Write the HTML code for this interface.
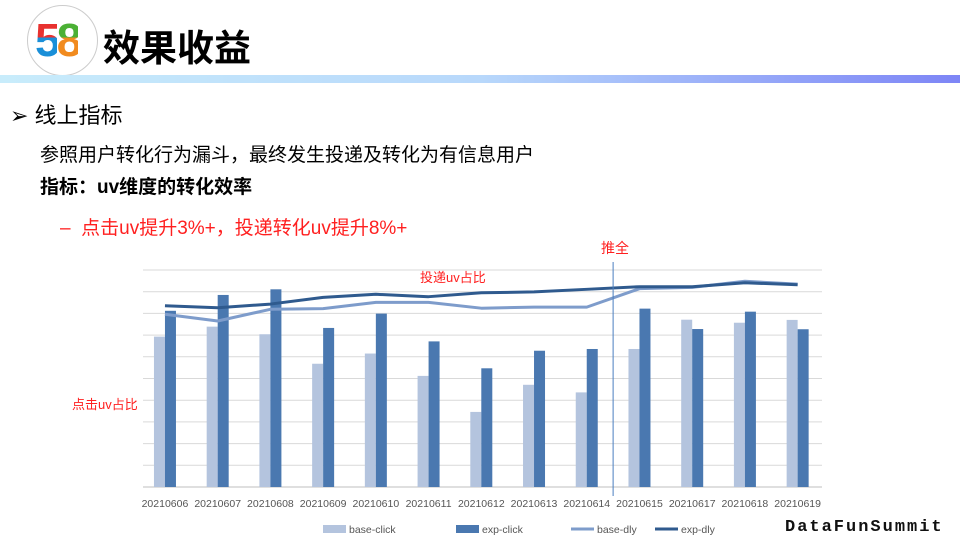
<!DOCTYPE html>
<html><head><meta charset="utf-8"><style>
body{margin:0;width:960px;height:540px;overflow:hidden;background:#fff;font-family:"Liberation Sans","Noto Sans CJK SC",sans-serif;position:relative}
.abs{position:absolute;white-space:nowrap}
.d{-webkit-background-clip:text;background-clip:text;color:transparent}
</style></head><body>
<div class="abs" style="left:27px;top:5px;width:69px;height:69px;border:1px solid #ccc;border-radius:50%;background:#fff"></div>
<div class="abs" style="left:35px;top:14px;font:bold 46px 'Liberation Sans',sans-serif;letter-spacing:-4px;line-height:52px"><span class="d" style="background-image:linear-gradient(180deg,#e8312f 45%,#1a8fd8 45%)">5</span><span class="d" style="background-image:linear-gradient(180deg,#4bb035 45%,#f18b1f 45%)">8</span></div>
<div class="abs" style="left:103px;top:18px;font-size:37px;font-weight:bold;color:#000">效果收益</div>
<div class="abs" style="left:0;top:75px;width:960px;height:8px;background:linear-gradient(90deg,#c8ecfb,#b8d8fb 50%,#7d85f6)"></div>
<div class="abs" style="left:10px;top:98px;font-size:22px;color:#000">➢ 线上指标</div>
<div class="abs" style="left:40px;top:140px;font-size:19px;color:#000">参照用户转化行为漏斗，最终发生投递及转化为有信息用户</div>
<div class="abs" style="left:40px;top:172px;font-size:19px;font-weight:bold;color:#000">指标：uv维度的转化效率</div>
<div class="abs" style="left:60px;top:213px;font-size:19px;color:#ff2020">–&nbsp;&nbsp;点击uv提升3%+，投递转化uv提升8%+</div>
<div class="abs" style="left:785px;top:518px;font:bold 17px 'Liberation Mono',monospace;letter-spacing:2px;color:#111">DataFunSummit</div>
<svg id="chart" class="abs" style="left:0;top:0" width="960" height="540"></svg>
<script>
const categories=["20210606","20210607","20210608","20210609","20210610","20210611","20210612","20210613","20210614","20210615","20210617","20210618","20210619"];
const baseClick=[6.93,7.39,7.04,5.68,6.15,5.12,3.46,4.71,4.36,6.36,7.71,7.57,7.70];
const expClick=[8.12,8.85,9.11,7.33,7.99,6.71,5.47,6.28,6.36,8.22,7.28,8.08,7.27];
const baseDly=[7.96,7.65,8.19,8.22,8.51,8.51,8.24,8.29,8.29,9.14,9.20,9.48,9.35];
const expDly=[8.35,8.26,8.43,8.74,8.88,8.77,8.95,8.99,9.11,9.23,9.23,9.41,9.32];
const yTicks=[0,1,2,3,4,5,6,7,8,9,10];
const fullRolloutAfter=8.5;
const svg=document.getElementById('chart');const NS='http://www.w3.org/2000/svg';
const X0=138.6,X1=824,Y0=487,Y1=270,YMAX=10;
const step=(X1-X0)/categories.length;
const xc=i=>X0+step*(i+0.5);
const y=v=>Y0-(Y0-Y1)*v/YMAX;
function mk(t,a){const e=document.createElementNS(NS,t);for(const k in a)e.setAttribute(k,a[k]);svg.appendChild(e);return e;}
yTicks.forEach(t=>{const e=mk('line',{x1:143,x2:822,y1:y(t),y2:y(t),stroke:t===0?'#bfbfbf':'#d9d9d9','stroke-width':1});

});
const bw=11;
categories.forEach((c,i)=>{
 const b=mk('rect',{x:xc(i)-bw,y:y(baseClick[i]),width:bw,height:Y0-y(baseClick[i]),fill:'#b4c4de'});
 
 
 const e=mk('rect',{x:xc(i),y:y(expClick[i]),width:bw,height:Y0-y(expClick[i]),fill:'#4a78b0'});
 
 
 const t=mk('text',{x:xc(i),y:507,'text-anchor':'middle','font-size':10.5,fill:'#555','font-family':'Liberation Sans,sans-serif'});t.textContent=c;
 
 
});
function line(arr,col,w,name){const p=mk('polyline',{points:arr.map((v,i)=>xc(i)+','+y(v)).join(' '),fill:'none',stroke:col,'stroke-width':w,'stroke-linejoin':'round'});

}
line(baseDly,'#7e9ccb',3,'line-base-dly');
line(expDly,'#2f5a8e',3,'line-exp-dly');
const vx=X0+step*(fullRolloutAfter+0.5);
const vl=mk('line',{x1:vx,x2:vx,y1:262,y2:496,stroke:'#4a7fc0','stroke-width':1});


function txt(s,x,yy,size,col,name,anchor){const t=mk('text',{x:x,y:yy,'font-size':size,fill:col,'text-anchor':anchor||'start','font-family':'Liberation Sans,Noto Sans CJK SC,sans-serif'});t.textContent=s;

}
txt('推全',601,253,14,'#ff2020','rollout-label');
txt('投递uv占比',420,282,13,'#ff2020','dly-annotation');
txt('点击uv占比',72,409,13,'#ff2020','click-annotation');
const leg=[['base-click','rect','#b4c4de'],['exp-click','rect','#4a78b0'],['base-dly','line','#7e9ccb'],['exp-dly','line','#2f5a8e']];
const lx=[273,406,521,605];
leg.forEach((l,i)=>{
 const sw=l[1]==='rect'?mk('rect',{x:lx[i]+50,y:525,width:23,height:8,fill:l[2]}):mk('line',{x1:lx[i]+50,x2:lx[i]+73,y1:529,y2:529,stroke:l[2],'stroke-width':3});
 
 
 txt(l[0],lx[i]+76,533,10.5,'#555','legend-entry');
});
</script>
</body></html>
